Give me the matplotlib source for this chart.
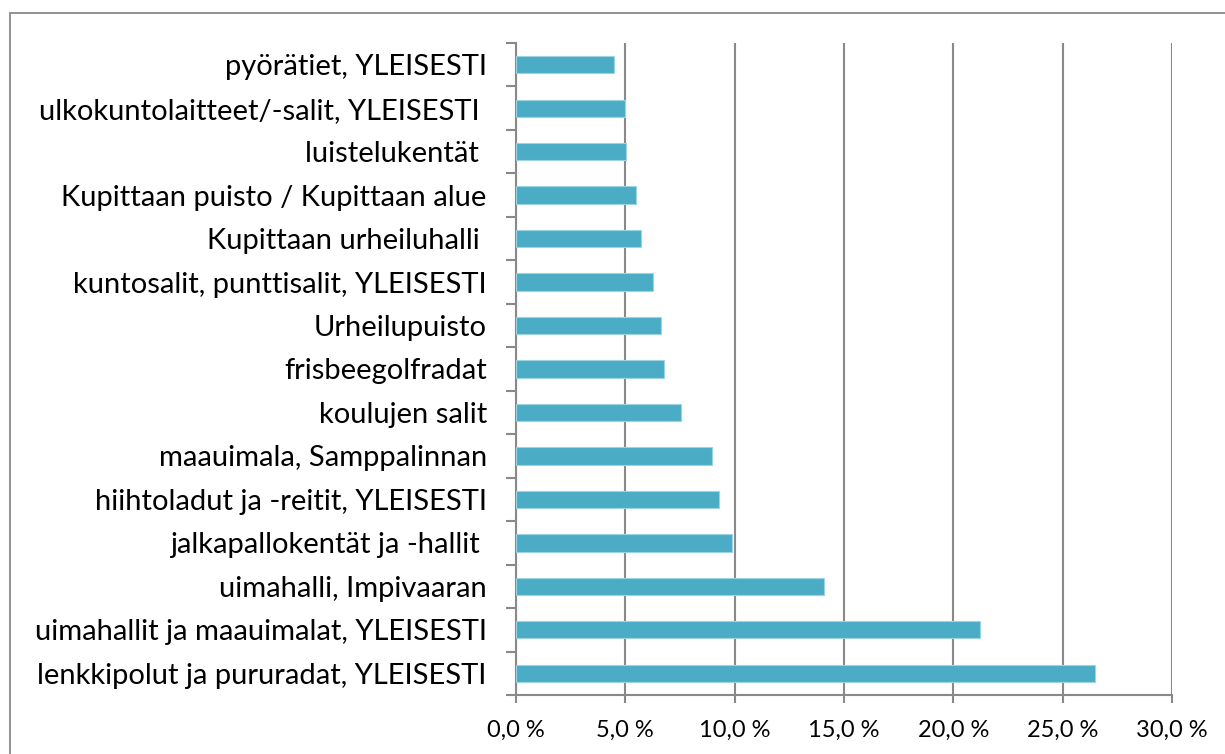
"""Horizontal bar chart: liikuntapaikkojen käyttö (%)."""
import matplotlib
matplotlib.use("Agg")
import matplotlib.pyplot as plt
from matplotlib.patches import Rectangle
from matplotlib.ticker import FixedLocator, FuncFormatter

plt.rcParams["font.family"] = ["Lato", "DejaVu Sans"]

categories = [
    "lenkkipolut ja pururadat, YLEISESTI",
    "uimahallit ja maauimalat, YLEISESTI",
    "uimahalli, Impivaaran",
    "jalkapallokentät ja -hallit ",
    "hiihtoladut ja -reitit, YLEISESTI",
    "maauimala, Samppalinnan",
    "koulujen salit",
    "frisbeegolfradat",
    "Urheilupuisto",
    "kuntosalit, punttisalit, YLEISESTI",
    "Kupittaan urheiluhalli ",
    "Kupittaan puisto / Kupittaan alue",
    "luistelukentät ",
    "ulkokuntolaitteet/-salit, YLEISESTI ",
    "pyörätiet, YLEISESTI",
]
values = [26.5, 21.2, 14.1, 9.9, 9.3, 8.95, 7.55, 6.75, 6.65, 6.25, 5.7, 5.5, 5.05, 5.0, 4.5]
x_ticks = [0, 5, 10, 15, 20, 25, 30]

BAR = "#4BACC6"
GREY = "#898989"

fig = plt.figure(figsize=(12.25, 7.54), dpi=100)
ax = fig.add_axes([516 / 1225, 1 - 695 / 754, (1172 - 516) / 1225, (695 - 43) / 754])

# outer chart frame (runs off the right and bottom edges)
fig.patches.append(Rectangle((10 / 1225, -0.05), 1.1, 1 - 13 / 754 + 0.05,
                             transform=fig.transFigure, fill=False,
                             edgecolor=GREY, linewidth=1.3, zorder=0))

pos = list(range(len(categories)))
ax.barh(pos, values, height=0.4, color=BAR, edgecolor="#9fd3e1", linewidth=0.8, zorder=3)

ax.set_xlim(0, 30)
ax.set_ylim(-0.5, len(categories) - 0.5)
ax.xaxis.set_major_locator(FixedLocator(x_ticks))
ax.xaxis.set_major_formatter(FuncFormatter(lambda v, _: f"{v:.1f}".replace(".", ",") + " %"))
ax.grid(axis="x", color=GREY, linewidth=1.5, zorder=0)

ax.set_yticks(pos)
ax.set_yticklabels(categories)
ax.yaxis.set_minor_locator(FixedLocator([p - 0.5 for p in pos] + [len(pos) - 0.5]))
ax.tick_params(axis="y", which="major", length=0, pad=21, labelsize=21, colors="black")
ax.tick_params(axis="y", which="minor", length=7, width=1.5, color=GREY)
ax.tick_params(axis="x", length=6, width=1.5, color=GREY, pad=12, labelsize=17)

for side in ("top", "right"):
    ax.spines[side].set_visible(False)
for side in ("left", "bottom"):
    ax.spines[side].set_color(GREY)
    ax.spines[side].set_linewidth(1.5)

fig.savefig("out.png", dpi=100)
